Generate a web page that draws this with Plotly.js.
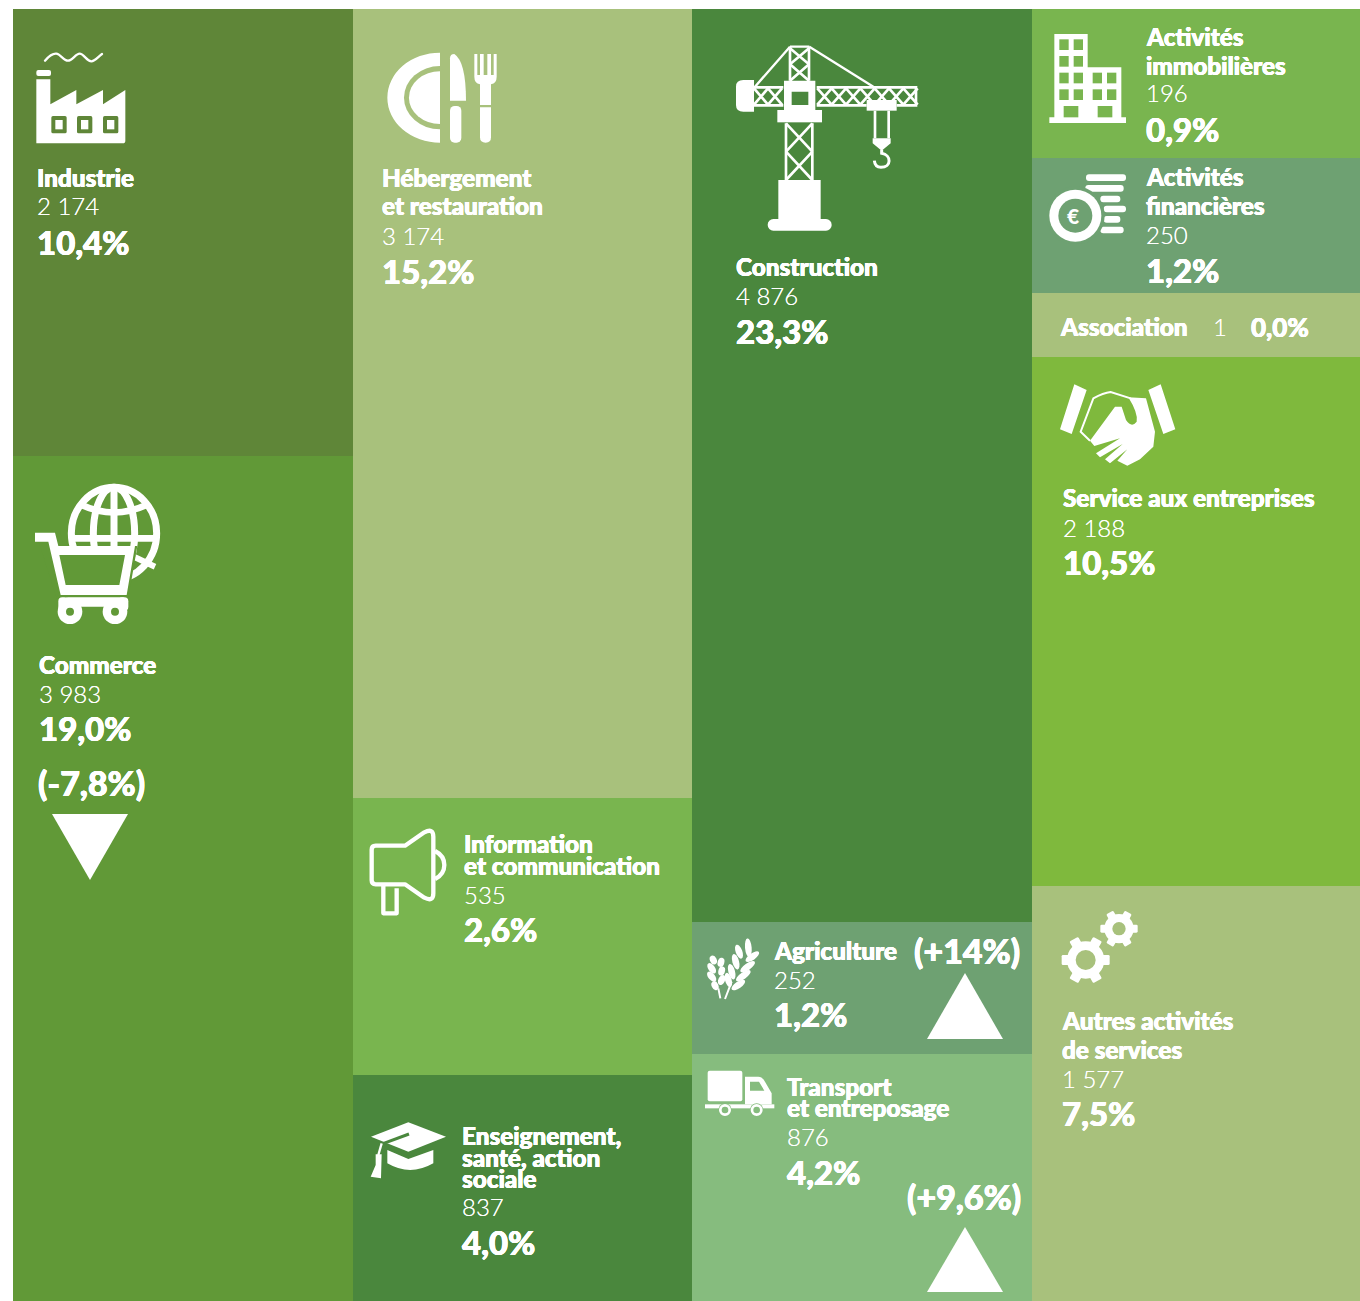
<!DOCTYPE html>
<html><head><meta charset="utf-8">
<script src="https://cdn.plot.ly/plotly-3.0.1.min.js"></script>
<style>html,body{margin:0;padding:0;background:#fff}</style></head>
<body><div id="chart" style="width:1360px;height:1301px"></div>
<script>
// ---------- data ----------
const columns = ["c1","c2","c3","c4"];
const sectorLabels = [
 ["Industrie"],["Commerce"],
 ["Hébergement","et restauration"],["Information","et communication"],["Enseignement,","santé, action","sociale"],
 ["Construction"],["Agriculture"],["Transport","et entreposage"],
 ["Activités","immobilières"],["Activités","financières"],["Association"],["Service aux entreprises"],["Autres activités","de services"]
];
const sectorCounts = ["2 174","3 983","3 174","535","837","4 876","252","876","196","250","1","2 188","1 577"];
const sectorShares = ["10,4%","19,0%","15,2%","2,6%","4,0%","23,3%","1,2%","4,2%","0,9%","1,2%","0,0%","10,5%","7,5%"];
const sectorChanges = ["","(-7,8%)","","","","","(+14%)","(+9,6%)","","","","",""];
const cellColumn = [0,0,1,1,1,2,2,2,3,3,3,3,3];
const cellSpan = [447,845,789,277,226,913,132,247,149,135,64,529,415];
const cellColor = ["#5F8638","#619937","#A8C17C","#79B54F","#4A873D","#4A873D","#6EA172","#86BC7E","#79B54F","#6EA172","#A8C17C","#7FB93D","#A8C17C"];

// ---------- placement on the page ----------
const W=1347,H=1292,L=13,T=9;
const fx=p=>(p-L)/W, fy=p=>1-(p-T)/H;
const place = [
 {x:37, lab:[178], n:206, p:242},
 {x:39, lab:[664], n:693, p:728, cx:38, cy:782},
 {x:382,lab:[178,206], n:235, p:271},
 {x:464,lab:[843,865], n:894, p:929},
 {x:462,lab:[1135,1157,1178], n:1206, p:1242},
 {x:736,lab:[267], n:295, p:331},
 {x:774,lab:[950], n:979, p:1014, cx:914, cy:950},
 {x:787,lab:[1086,1107], n:1136, p:1172, cx:907, cy:1196},
 {x:1146,lab:[36,65], n:93, p:129},
 {x:1146,lab:[177,206], n:234, p:270},
 {x:1060,lab:[327], n:327, p:327, nx:1213, px:1251, ps:26},
 {x:1063,lab:[498], n:527, p:562},
 {x:1062,lab:[1020,1049], n:1078, p:1113}
];
const FONT="Lato, 'Open Sans', sans-serif";
const BOLD='0.35px 0 0 #fff,-0.35px 0 0 #fff,0 0.4px 0 #fff,0 -0.4px 0 #fff';
const ann=[];
function t(text,x,y,size,weight,shadow){ann.push({text,xref:'paper',yref:'paper',x:fx(x),y:fy(y),xanchor:'left',yanchor:'middle',showarrow:false,borderpad:0,borderwidth:0,font:{family:FONT,size,color:'#fff',weight,shadow:shadow||'none'}});}
place.forEach((q,i)=>{
 sectorLabels[i].forEach((s,k)=>t(s,q.x,q.lab[k],24.3,900,BOLD));
 t(sectorCounts[i],q.nx||q.x,q.n,24,300,'0 0 0.6px #fff');
 t(sectorShares[i],q.px||q.x,q.p,q.ps||33,900,BOLD);
 if(sectorChanges[i]) t(sectorChanges[i],q.cx,q.cy,34,900,BOLD);
});
t("€",1067,215,21,900);

// ---------- marks ----------
const traces=cellSpan.map((v,i)=>({type:'bar',x:[columns[cellColumn[i]]],y:[v],marker:{color:cellColor[i],line:{width:0}},
  name:sectorLabels[i].join(' '),text:[''],hovertemplate:sectorLabels[i].join(' ')+'<br>'+sectorCounts[i]+' – '+sectorShares[i]+'<extra></extra>'}));

// triangles
function tri(pts){return {type:'path',xref:'paper',yref:'paper',layer:'above',fillcolor:'#fff',line:{width:0},
  path:'M'+pts.map(a=>fx(a[0])+','+fy(a[1])).join('L')+'Z'};}
const shapes=[tri([[52,814],[128,814],[90,880]]),tri([[927,1039],[1003,1039],[965,973]]),tri([[927,1292],[1003,1292],[965,1227]])];

// icons: drawn in 3x-scaled coordinates relative to an origin on the page
const images=[];
function icon(ox,oy,x0,y0,x1,y1,body){
 const svg=`<svg xmlns="http://www.w3.org/2000/svg" width="${(x1-x0)*2}" height="${(y1-y0)*2}" viewBox="${x0} ${y0} ${x1-x0} ${y1-y0}">${body}</svg>`;
 images.push({source:'data:image/svg+xml;charset=utf-8,'+encodeURIComponent(svg),xref:'paper',yref:'paper',x:fx(ox+x0/3),y:fy(oy+y0/3),
  sizex:(x1-x0)/3/W,sizey:(y1-y0)/3/H,xanchor:'left',yanchor:'top',sizing:'stretch',layer:'above'});
}
// factory
{const bg=cellColor[0];
 const win=x=>`<rect x="${x}" y="288" width="46" height="52" rx="5" fill="${bg}"/><rect x="${x+12}" y="300" width="22" height="28" fill="#fff"/>`;
 icon(13,20,60,90,345,375,`<path d="M70,370V178H112V253L190,210V253L270,210V253L337,210V362Q337,370 329,370Z" fill="#fff"/><rect x="70" y="150" width="44" height="18" rx="6" fill="#fff"/>`+win(115)+win(192)+win(270)+
 `<path d="M96,122C108,108 120,100 130,101C142,102 152,122 165,122C178,122 188,101 200,101C212,101 222,124 235,124C246,124 256,110 267,102" fill="none" stroke="#fff" stroke-width="7" stroke-linecap="round"/>`);}
// plate, knife, fork
{const bg=cellColor[2];
 icon(360,30,70,60,420,345,`<path d="M240,68A158,135 0 0 0 240,338Z" fill="#fff"/><path d="M240,108A108,95 0 0 0 240,298Z" fill="${bg}"/><path d="M240,124A92,78 0 0 0 240,282Z" fill="#fff"/>
 <path d="M270,85Q270,72 283,72Q318,95 318,212H270Z" fill="#fff"/><rect x="270" y="228" width="34" height="110" rx="14" fill="#fff"/>
 <path d="M343,72H352V135H360V72H371V135H382V72H393V135H401V72H410V140Q410,160 393,163V225H360V163Q343,160 343,140Z" fill="#fff"/><path d="M360,232H393V322Q393,338 377,338Q360,338 360,322Z" fill="#fff"/>`);}
// crane
{let lat='';
 const x=(a,b,c,d)=>`<path d="M${a},${c}L${b},${d}M${b},${c}L${a},${d}" />`;
 for(let i=0;i<7;i++){lat+=x(322+i*43,322+(i+1)*43,175,224);}
 for(let i=0;i<2;i++){lat+=x(132+i*42,132+(i+1)*42,175,224);}
 lat+=x(240,297,55,103)+x(240,297,103,152)+x(228,307,280,365)+x(228,307,365,450);
 icon(710,30,70,40,630,610,`<g fill="none" stroke="#fff" stroke-width="8">${lat}
 <path d="M240,50V152M297,50V152M228,280V450M307,280V450M132,172H220M132,226H220M320,172H622M320,226H470M560,226H622M618,168V230"/>
 <path d="M240,50H298M240,50L135,170M298,50L490,170" stroke-width="7"/><path d="M495,242V325M536,242V325"/>
 <path d="M515,360V370C545,375 545,412 513,412Q495,412 493,392" stroke-width="9"/></g>
 <path d="M132,150H100Q78,150 78,170V225Q78,245 100,245H132Z" fill="#fff"/>
 <path d="M222,152H316V240H222ZM245,185V225H295V185Z" fill="#fff" fill-rule="evenodd"/>
 <rect x="202" y="240" width="134" height="37" fill="#fff"/>
 <rect x="470" y="210" width="90" height="32" fill="#fff"/>
 <path d="M488,325H542V340L515,362L488,340Z" fill="#fff"/>
 <rect x="205" y="450" width="127" height="125" fill="#fff"/><rect x="173" y="567" width="192" height="35" rx="17" fill="#fff"/>`);}
// buildings
{const bg=cellColor[8];let w='';
 [88,138,188,238].forEach(y=>[82,125].forEach(x=>w+=`<rect x="${x}" y="${y}" width="28" height="32"/>`));
 [188,238].forEach(y=>[182,225].forEach(x=>w+=`<rect x="${x}" y="${y}" width="28" height="32"/>`));
 [95,197].forEach(x=>w+=`<rect x="${x}" y="288" width="44" height="34"/>`);
 icon(1032,10,45,65,290,345,`<path d="M67,72H167V172H268V322H282V339H52V322H67Z" fill="#fff"/><g fill="${bg}">${w}</g>`);}
// coins (euro sign is a text annotation)
{const bg=cellColor[9];let b='';
 [[162,493,120],[160,525,115],[205,557,60],[215,587,67],[215,618,50],[205,650,70]].forEach(a=>b+=`<rect x="${a[0]}" y="${a[1]}" width="${a[2]}" height="20" rx="9" fill="#fff"/>`);
 icon(1032,10,45,485,290,700,b+`<circle cx="130" cy="617" r="88" fill="${bg}"/><circle cx="130" cy="617" r="78" fill="#fff"/><circle cx="130" cy="617" r="51" fill="${bg}"/>`);}
// handshake
{icon(1040,370,50,35,415,295,`<path d="M103,43L140,60L95,192L60,178ZM362,43L325,60L370,192L406,178Z" fill="#fff"/>
 <path d="M272,85L212,66Q190,68 160,85L122,185L150,212" fill="none" stroke="#fff" stroke-width="6"/>
 <path d="M225,110L150,212L163,228L240,205L168,250L180,262L248,222L195,268L210,280L262,238L232,272L262,287L300,268L340,230L345,185L318,85L265,82Q295,130 290,155Q275,175 258,150L245,110Z" fill="#fff"/>`);}
// globe + cart
{const bg=cellColor[1];
 icon(20,470,40,35,430,470,`<g fill="none" stroke="#fff" stroke-width="21"><ellipse cx="282" cy="190" rx="128" ry="138"/><ellipse cx="282" cy="190" rx="62" ry="138"/><path d="M282,50V330"/><path d="M185,105Q282,150 379,105" stroke-width="20"/><path d="M151,205H413" stroke-width="20"/><path d="M345,262L405,290" stroke-width="18"/></g>
 <path d="M45,180H120L130,228H352L325,385H110Z" fill="${bg}"/>
 <path d="M45,188H105L115,228H345L320,375H122L85,215H45ZM118,255L137,345H298L315,255Z" fill="#fff" fill-rule="evenodd"/>
 <rect x="130" y="382" width="190" height="28" rx="14" fill="#fff"/><rect x="115" y="382" width="30" height="40" rx="12" fill="#fff"/><rect x="295" y="382" width="30" height="40" rx="12" fill="#fff"/>
 <circle cx="150" cy="425" r="37" fill="#fff"/><circle cx="285" cy="425" r="37" fill="#fff"/><circle cx="150" cy="425" r="12" fill="${bg}"/><circle cx="285" cy="425" r="12" fill="${bg}"/>`);}
// megaphone
icon(355,815,35,30,285,310,`<g fill="none" stroke="#fff" stroke-width="13" stroke-linejoin="round"><path d="M62,92H150L208,52Q235,38 235,65V235Q235,262 208,248L150,208H62Q50,208 50,196V104Q50,92 62,92Z"/><path d="M240,108Q268,122 268,150Q268,178 240,192"/><path d="M85,212V295H125V220"/></g>`);
// graduation cap
{const bg=cellColor[4];
 icon(355,815,40,915,285,1100,`<path d="M97,1005V1045Q165,1085 235,1045V1005L160,1032Z" fill="#fff"/><path d="M160,922L273,965L160,1010L48,965Z" fill="#fff"/>
 <path d="M162,957L78,988" stroke="${bg}" stroke-width="9" fill="none"/><path d="M80,985L70,1020" stroke="#fff" stroke-width="7" fill="none"/>
 <path d="M62,1018H80L78,1090L47,1085L62,1050Z" fill="#fff"/>`);}
// wheat
{const l=[[160,68,-5,28],[132,80,-20,22],[172,95,55,24],[122,110,-15,24],[158,125,55,26],[110,140,-15,24],[145,152,55,26],[100,165,-15,22],[130,180,55,24],
 [55,105,-25,14],[78,112,15,14],[50,130,-35,18],[80,138,15,14],[50,155,-40,18],[80,165,25,16],[60,182,-25,14]];
 let b='';l.forEach(a=>b+=`<ellipse cx="${a[0]}" cy="${a[1]}" rx="10" ry="${a[3]}" transform="rotate(${a[2]} ${a[0]} ${a[1]})" fill="#fff"/>`);
 icon(695,925,25,40,200,230,b+`<path d="M76,220L70,190M90,222L110,170" stroke="#fff" stroke-width="6" fill="none"/>`);}
// truck
{const bg=cellColor[7];
 const wh=x=>`<circle cx="${x}" cy="555" r="20" fill="${bg}"/><circle cx="${x}" cy="555" r="14" fill="none" stroke="#fff" stroke-width="8"/>`;
 icon(695,925,25,430,245,580,`<rect x="38" y="437" width="104" height="92" rx="6" fill="#fff"/><path d="M150,455H190Q202,455 210,470L230,505V538H150ZM165,470V497H208L192,470Z" fill="#fff" fill-rule="evenodd"/><rect x="30" y="538" width="208" height="12" fill="#fff"/>`+wh(90)+wh(185));}
// gears
{const bg=cellColor[12];
 const gear=(cx,cy,r,tw,tl,h)=>{let s=`<circle cx="${cx}" cy="${cy}" r="${r}" fill="#fff"/>`;
  [0,60,120].forEach(a=>s+=`<rect x="${cx-tw/2}" y="${cy-tl}" width="${tw}" height="${2*tl}" rx="4" fill="#fff" transform="rotate(${a+30} ${cx} ${cy})"/>`);
  return s+`<circle cx="${cx}" cy="${cy}" r="${h}" fill="${bg}"/>`;};
 icon(1045,900,45,25,290,255,gear(122,180,56,30,72,30)+gear(222,86,44,24,56,20));}

const layout={width:1360,height:1301,margin:{l:L,r:0,t:T,b:0,pad:0},paper_bgcolor:'#fff',plot_bgcolor:'#fff',
 barmode:'stack',bargap:0,showlegend:false,
 xaxis:{type:'category',categoryarray:columns,range:[-0.5,3.465],visible:false,fixedrange:true},
 yaxis:{range:[H,0],visible:false,fixedrange:true},
 annotations:ann,shapes,images,font:{family:FONT}};
Plotly.newPlot('chart',traces,layout,{displayModeBar:false});
</script></body></html>
